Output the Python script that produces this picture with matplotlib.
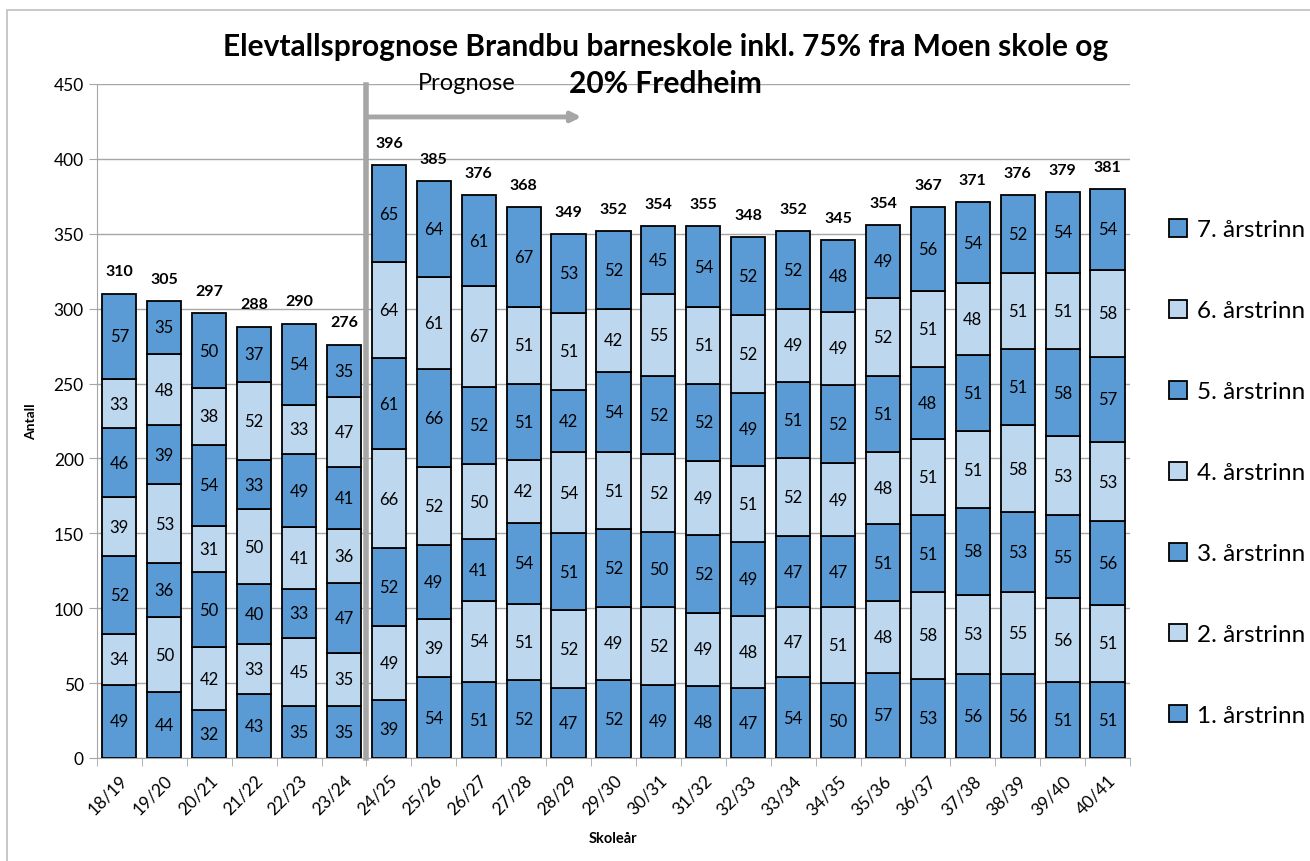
import numpy as np
import matplotlib
matplotlib.use("Agg")
import matplotlib.pyplot as plt
from matplotlib.patches import Rectangle

plt.rcParams['font.family'] = ['Lato', 'DejaVu Sans']

# skoleår og elevtall per trinn
years = ["18/19", "19/20", "20/21", "21/22", "22/23", "23/24", "24/25", "25/26",
         "26/27", "27/28", "28/29", "29/30", "30/31", "31/32", "32/33", "33/34",
         "34/35", "35/36", "36/37", "37/38", "38/39", "39/40", "40/41"]
trinn1 = [49, 44, 32, 43, 35, 35, 39, 54, 51, 52, 47, 52, 49, 48, 47, 54, 50, 57, 53, 56, 56, 51, 51]
trinn2 = [34, 50, 42, 33, 45, 35, 49, 39, 54, 51, 52, 49, 52, 49, 48, 47, 51, 48, 58, 53, 55, 56, 51]
trinn3 = [52, 36, 50, 40, 33, 47, 52, 49, 41, 54, 51, 52, 50, 52, 49, 47, 47, 51, 51, 58, 53, 55, 56]
trinn4 = [39, 53, 31, 50, 41, 36, 66, 52, 50, 42, 54, 51, 52, 49, 51, 52, 49, 48, 51, 51, 58, 53, 53]
trinn5 = [46, 39, 54, 33, 49, 41, 61, 66, 52, 51, 42, 54, 52, 52, 49, 51, 52, 51, 48, 51, 51, 58, 57]
trinn6 = [33, 48, 38, 52, 33, 47, 64, 61, 67, 51, 51, 42, 55, 51, 52, 49, 49, 52, 51, 48, 51, 51, 58]
trinn7 = [57, 35, 50, 37, 54, 35, 65, 64, 61, 67, 53, 52, 45, 54, 52, 52, 48, 49, 56, 54, 52, 54, 54]
totals = [310, 305, 297, 288, 290, 276, 396, 385, 376, 368, 349, 352, 354, 355, 348, 352,
          345, 354, 367, 371, 376, 379, 381]
series = [trinn1, trinn2, trinn3, trinn4, trinn5, trinn6, trinn7]
names = ["1. årstrinn", "2. årstrinn", "3. årstrinn", "4. årstrinn",
         "5. årstrinn", "6. årstrinn", "7. årstrinn"]

dark = "#5B9BD5"
light = "#BDD7EE"
grey = "#A6A6A6"

fig = plt.figure(figsize=(13.1, 8.62), dpi=100)
ax = fig.add_axes([0.074, 0.1195, 0.7886, 0.7819])

x = np.arange(len(years))
bottom = np.zeros(len(years))
handles = []
for i, s in enumerate(series):
    col = dark if i % 2 == 0 else light
    bars = ax.bar(x, s, 0.76, bottom=bottom, color=col, edgecolor="black",
                  linewidth=1.3, label=names[i], zorder=3)
    handles.append(bars)
    for xi, b, v in zip(x, bottom, s):
        ax.text(xi, b + v / 2, str(v), ha="center", va="center", fontsize=12, zorder=4)
    bottom = bottom + np.array(s)

# totalsum over stolpene
for xi, top, t in zip(x, bottom, totals):
    ax.annotate(str(t), (xi, top), xytext=(0, 16), textcoords="offset points",
                ha="center", va="center", fontsize=11.5, fontweight="bold")

ax.set_xlim(-0.5, len(years) - 0.5)
ax.set_ylim(0, 450)
ax.set_yticks(np.arange(0, 451, 50))
ax.grid(axis="y", color=grey, linewidth=1, zorder=0)
ax.set_xticks(x)
ax.set_xticklabels(years, rotation=45, ha="right", rotation_mode="anchor", fontsize=12.5)
ax.set_xticks(np.arange(-0.5, len(years), 1), minor=True)
ax.tick_params(axis="x", which="major", length=0, pad=10)
ax.tick_params(axis="x", which="minor", length=6, color=grey)
ax.tick_params(axis="y", length=6, color=grey, labelsize=12.5)
for sp in ["top", "right"]:
    ax.spines[sp].set_visible(False)
for sp in ["left", "bottom"]:
    ax.spines[sp].set_color(grey)

ax.set_ylabel("Antall", fontsize=10, fontweight="bold", labelpad=12)
ax.set_xlabel("Skoleår", fontsize=10.5, fontweight="bold", labelpad=10)

# prognose-markering
ax.plot([5.5, 5.5], [0, 449], color=grey, linewidth=4, zorder=5, clip_on=False)
ax.annotate("", xy=(10.35, 428), xytext=(5.5, 428),
            arrowprops=dict(arrowstyle="-|>", color=grey, lw=3.5, mutation_scale=14), zorder=5)
ax.text(6.65, 451, "Prognose", fontsize=17, ha="left", va="center")

fig.text(0.508, 0.945, "Elevtallsprognose Brandbu barneskole inkl. 75% fra Moen skole og",
         ha="center", va="center", fontsize=21.5, fontweight="bold")
fig.text(0.508, 0.902, "20% Fredheim", ha="center", va="center", fontsize=21.5, fontweight="bold")

leg = fig.legend(handles[::-1], names[::-1], loc="upper left", bbox_to_anchor=(0.885, 0.756),
                 frameon=False, fontsize=17.5, labelspacing=2.45, handlelength=0.75,
                 handleheight=0.75, handletextpad=0.4, borderaxespad=0)

fig.patches.append(Rectangle((7 / 1310, -0.01), 1.0, 0.9985 - 10 / 862 + 0.01,
                             transform=fig.transFigure, fill=False, edgecolor="#BFBFBF",
                             linewidth=1.2))

fig.savefig("out.png", dpi=100)
